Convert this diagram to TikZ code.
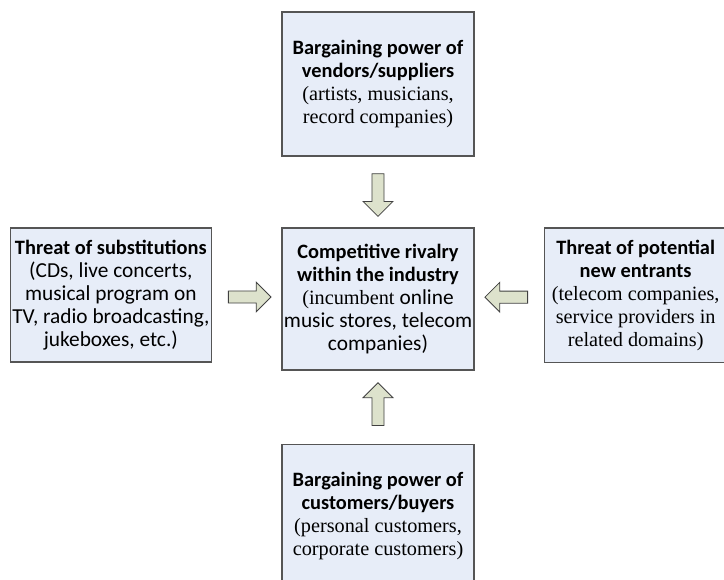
\documentclass[tikz,border=0pt]{standalone}
\usepackage{fontspec}
\setmainfont{Liberation Serif}
\setsansfont{Carlito}
\usetikzlibrary{shapes.arrows, positioning, calc}
\definecolor{boxfill}{RGB}{231,237,248}
\definecolor{boxline}{RGB}{85,85,85}
\definecolor{arrfill}{RGB}{221,226,204}
\newcommand{\hd}[1]{{\sffamily\bfseries\fontsize{15.3}{17.25}\selectfont #1}}
\newcommand{\sn}[1]{{\sffamily\fontsize{16}{17.25}\selectfont #1}}

\begin{document}
\begin{tikzpicture}[x=0.75pt, y=-0.75pt, node distance=53pt and 52pt,
	force/.style={draw=boxline, line width=1pt, fill=boxfill, align=center,
		font=\fontsize{15.2}{17.25}\selectfont, minimum width=144pt, minimum height=108pt, inner sep=0pt},
	blkarrow/.style={single arrow, draw=black!75, fill=arrfill, line width=0.6pt, minimum height=32pt,
		inner xsep=0pt, inner ysep=4.25pt, single arrow head extend=6.6pt, single arrow head indent=0pt}]
	\useasboundingbox (0,0) rectangle (724,579);
	\clip (0,0) rectangle (724,579);
	\node[force, minimum height=106.5pt] (rival) at (378,299)
		{\hd{Competitive rivalry}\\ \hd{within the industry}\\ (incumbent \sn{online}\\ \sn{music stores, telecom}\\ \sn{companies)}};
	\node[force, above=of rival] (supp)
		{\hd{Bargaining power of}\\ \hd{vendors/suppliers}\\ (artists, musicians,\\ record companies)};
	\node[force, below=54.75pt of rival] (buy)
		{\hd{Bargaining power of}\\ \hd{customers/buyers}\\ (personal customers,\\ corporate customers)};
	\node[force, minimum width=150.75pt, minimum height=100.5pt,
		left=of rival.north west, anchor=north east] (subst)
		{\makebox[0pt]{\hd{Threat of substitutions}}\\ \sn{(CDs, live concerts,}\\ \sn{musical program on}\\
		\makebox[0pt]{\sn{TV, radio broadcasting,}}\\ \sn{jukeboxes, etc.)}};
	\node[force, minimum width=136.5pt, minimum height=101pt, right=of rival.north east, anchor=north west] (entr)
		{\hd{Threat of potential}\\ \hd{new entrants}\\ (telecom companies,\\ service providers in\\ related domains)};
	\foreach \from/\to/\ang/\nm in {supp.south/rival.north/-90/a1, buy.north/rival.south/90/a2,
		subst.east/rival.west/0/a3, entr.west/rival.east/180/a4}
		\node[blkarrow, rotate=\ang] (\nm) at ($(\from)!0.5!(\to)$) {};
\end{tikzpicture}
\end{document}
